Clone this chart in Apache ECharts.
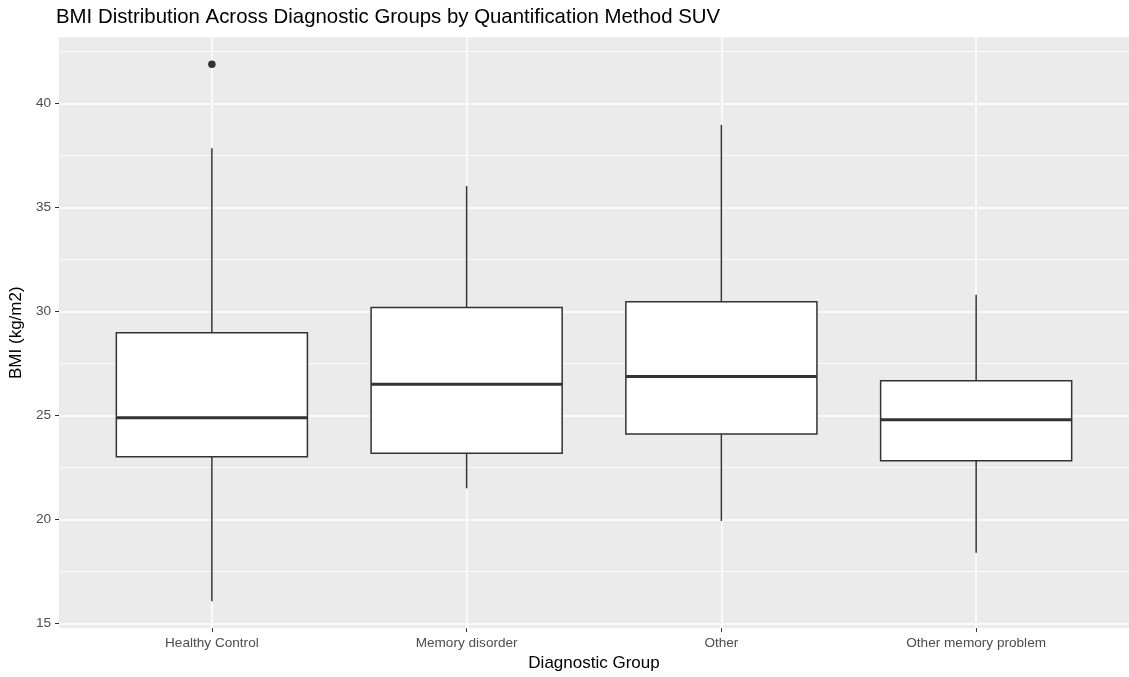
<!DOCTYPE html>
<html>
<head>
<meta charset="utf-8">
<title>BMI Distribution Across Diagnostic Groups</title>
<script src="https://cdn.jsdelivr.net/npm/echarts@6/dist/echarts.min.js"></script>
<style>
  html, body { margin: 0; padding: 0; background: #ffffff; }
  #chart { width: 1129px; height: 677px; }
</style>
</head>
<body>
<div id="chart"></div>
<script>
// Diagnostic groups (x axis, left to right)
const categories = ['Healthy Control', 'Memory disorder', 'Other', 'Other memory problem'];

// Box statistics per group (BMI, kg/m2)
const lowerWhisker = [16.07, 21.50, 19.93, 18.40];
const q1Values     = [23.02, 23.19, 24.11, 22.82];
const medianValues = [24.89, 26.50, 26.88, 24.80];
const q3Values     = [28.98, 30.19, 30.47, 26.67];
const upperWhisker = [37.85, 36.03, 38.97, 30.81];

// Points beyond the whiskers: [group index, value]
const outliers = [[0, 41.89]];

// Axis ticks
const yTicks = [15, 20, 25, 30, 35, 40];
const yMinorTicks = [17.5, 22.5, 27.5, 32.5, 37.5, 42.5];

// Value range with a 5% margin on either side, as in a ggplot panel
const allValues = lowerWhisker.concat(upperWhisker, outliers.map(o => o[1]));
const dataMin = Math.min.apply(null, allValues);
const dataMax = Math.max.apply(null, allValues);
const pad = (dataMax - dataMin) * 0.05;
const yMin = dataMin - pad;
const yMax = dataMax + pad;

const xPositions = categories.map((c, i) => i + 1);
const boxRows = categories.map((c, i) => [
  i + 1, lowerWhisker[i], q1Values[i], medianValues[i], q3Values[i], upperWhisker[i]
]);
const outlierPoints = outliers.map(o => [o[0] + 1, o[1]]);

const ink = '#333333';
const boxWidth = 0.75;
const fontFamily = '"Liberation Sans", Arial, Helvetica, sans-serif';

const chart = echarts.init(document.getElementById('chart'), null, { renderer: 'canvas' });

chart.setOption({
  animation: false,
  backgroundColor: '#ffffff',
  textStyle: { fontFamily: fontFamily },
  title: {
    text: 'BMI Distribution Across Diagnostic Groups by Quantification Method SUV',
    left: 56,
    top: 7,
    padding: 0,
    textStyle: { fontFamily: fontFamily, fontSize: 20.4, fontWeight: 'normal', color: '#000000' }
  },
  grid: {
    left: 55,
    top: 37.3,
    width: 1075,
    height: 595.4,
    show: true,
    backgroundColor: '#EBEBEB',
    borderWidth: 0,
    containLabel: false
  },
  xAxis: {
    type: 'value',
    min: 0.4,
    max: 4.6,
    name: 'Diagnostic Group',
    nameLocation: 'middle',
    nameGap: 22,
    nameTextStyle: { fontFamily: fontFamily, fontSize: 17, color: '#000000' },
    axisLine: { show: false },
    axisTick: {
      show: true, length: 4, customValues: xPositions,
      lineStyle: { color: ink, width: 1 }
    },
    axisLabel: {
      customValues: xPositions,
      margin: 8,
      fontSize: 13.6,
      color: '#4D4D4D',
      fontFamily: fontFamily,
      formatter: function (v) { return categories[Math.round(v) - 1] || ''; }
    },
    splitLine: { show: true, lineStyle: { color: '#ffffff', width: 1.5 } }
  },
  yAxis: [
    {
      type: 'value',
      min: yMin,
      max: yMax,
      name: 'BMI (kg/m2)',
      nameLocation: 'middle',
      nameGap: 25,
      nameTextStyle: { fontFamily: fontFamily, fontSize: 17, color: '#000000' },
      axisLine: { show: false },
      axisTick: {
        show: true, length: 4, customValues: yTicks,
        lineStyle: { color: ink, width: 1 }
      },
      axisLabel: {
        customValues: yTicks,
        margin: 8,
        fontSize: 13.6,
        color: '#4D4D4D',
        fontFamily: fontFamily
      },
      splitLine: { show: true, lineStyle: { color: '#ffffff', width: 1.5 } }
    },
    {
      // minor grid lines between the labelled ticks
      type: 'value',
      min: yMin,
      max: yMax,
      position: 'left',
      axisLine: { show: false },
      axisTick: { show: false, customValues: yMinorTicks },
      axisLabel: { show: false, customValues: yMinorTicks },
      splitLine: { show: true, lineStyle: { color: '#ffffff', width: 0.75 } }
    }
  ],
  series: [
    {
      type: 'custom',
      name: 'BMI',
      z: 3,
      data: boxRows,
      encode: { x: 0, y: [1, 2, 3, 4, 5] },
      renderItem: function (params, api) {
        const x = api.value(0);
        const pLo = api.coord([x, api.value(1)]);
        const pQ1 = api.coord([x, api.value(2)]);
        const pMed = api.coord([x, api.value(3)]);
        const pQ3 = api.coord([x, api.value(4)]);
        const pHi = api.coord([x, api.value(5)]);
        const half = api.size([boxWidth, 0])[0] / 2;
        const cx = pMed[0];
        const lineStyle = { stroke: ink, lineWidth: 1.5 };
        return {
          type: 'group',
          children: [
            { type: 'line', shape: { x1: cx, y1: pHi[1], x2: cx, y2: pQ3[1] }, style: lineStyle },
            { type: 'line', shape: { x1: cx, y1: pQ1[1], x2: cx, y2: pLo[1] }, style: lineStyle },
            {
              type: 'rect',
              shape: { x: cx - half, y: pQ3[1], width: half * 2, height: pQ1[1] - pQ3[1] },
              style: { fill: '#ffffff', stroke: ink, lineWidth: 1.5 }
            },
            {
              type: 'line',
              shape: { x1: cx - half, y1: pMed[1], x2: cx + half, y2: pMed[1] },
              style: { stroke: ink, lineWidth: 3 }
            }
          ]
        };
      }
    },
    {
      type: 'scatter',
      name: 'Outliers',
      z: 4,
      data: outlierPoints,
      symbol: 'circle',
      symbolSize: 7.5,
      itemStyle: { color: ink, opacity: 1 }
    }
  ]
});
</script>
</body>
</html>
